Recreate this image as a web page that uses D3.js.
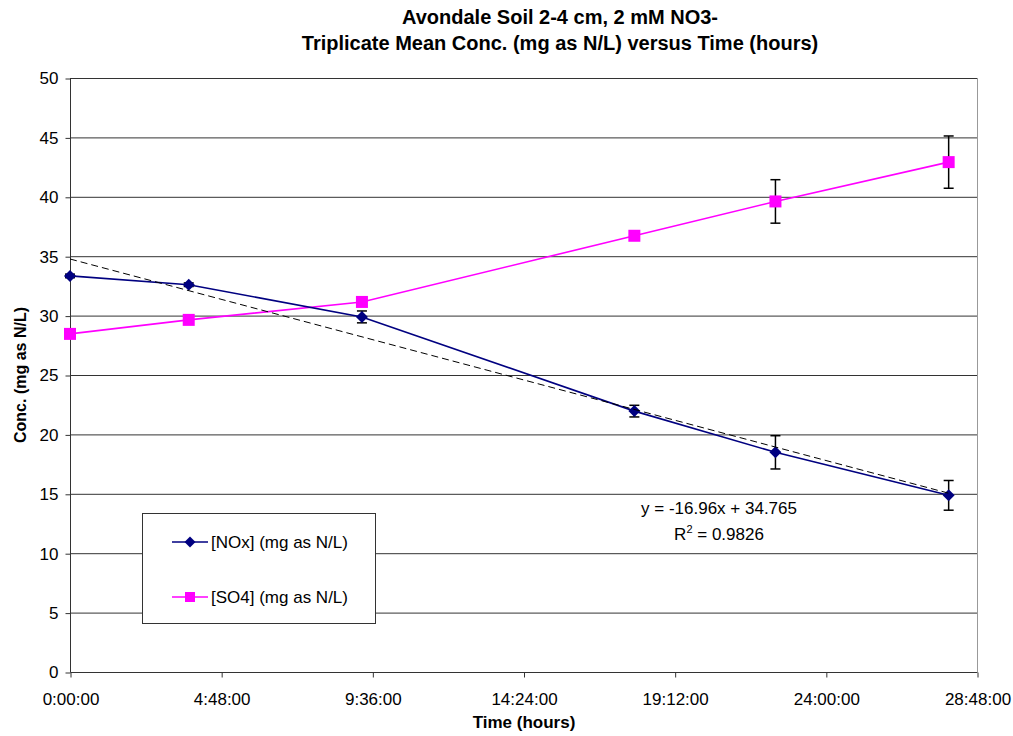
<!DOCTYPE html>
<html>
<head>
<meta charset="utf-8">
<script src="https://d3js.org/d3.v7.min.js"></script>
<style>
  html, body { margin: 0; padding: 0; background: #fff; }
  svg { display: block; font-family: "Liberation Sans", Arial, sans-serif; }
</style>
</head>
<body>
<svg id="chart" width="1013" height="736"></svg>
<script>
// Sampling times (hours) and triplicate means (mg as N/L)
const timeHours = [0, 3.77, 9.27, 17.92, 22.4, 27.9];
const noxMean = [33.34, 32.6, 29.89, 21.96, 18.49, 14.87];
const noxErr  = [0.15, 0.15, 0.5, 0.49, 1.4, 1.25];
const so4Mean = [28.46, 29.64, 31.15, 36.72, 39.61, 42.92];
const so4Err  = [0.1, 0.1, 0.1, 0.2, 1.83, 2.2];
const yTicks = [0, 5, 10, 15, 20, 25, 30, 35, 40, 45, 50];
const xTicks = [0, 4.8, 9.6, 14.4, 19.2, 24, 28.8];
const xTickLabels = ["0:00:00", "4:48:00", "9:36:00", "14:24:00", "19:12:00", "24:00:00", "28:48:00"];
// Linear fit of NOx against time in days
const fitSlope = -16.96;
const fitIntercept = 34.765;
const fitLabel = "y = -16.96x + 34.765";
const fitR2 = "0.9826";

const svg = d3.select("#chart");
const plotLeft = 70, plotRight = 977, plotTop = 78, plotBottom = 672;
const fontFamily = "Liberation Sans, Arial, sans-serif";

const x = d3.scaleLinear().domain([0, 28.8]).range([plotLeft, plotRight]);
const y = d3.scaleLinear().domain([0, 50]).range([plotBottom, plotTop]);

// Title
const title = svg.append("g").attr("font-size", 20).attr("font-weight", "bold").attr("text-anchor", "middle").attr("fill", "#000");
title.append("text").attr("x", 560).attr("y", 24).text("Avondale Soil 2-4 cm, 2 mM NO3-");
title.append("text").attr("x", 560).attr("y", 50).text("Triplicate Mean Conc. (mg as N/L) versus Time (hours)");

// Horizontal gridlines
svg.append("g").selectAll("line").data(yTicks.filter(d => d > 0)).join("line")
  .attr("x1", plotLeft).attr("x2", plotRight)
  .attr("y1", d => y(d) + 0.5).attr("y2", d => y(d) + 0.5)
  .attr("stroke", "#333").attr("stroke-width", 1);

// Right frame edge
svg.append("line").attr("x1", plotRight + 0.5).attr("x2", plotRight + 0.5).attr("y1", plotTop).attr("y2", plotBottom)
  .attr("stroke", "#999").attr("stroke-width", 1);

// Y axis
const yAxis = d3.axisLeft(y).tickValues(yTicks).tickSize(5).tickPadding(7).tickFormat(d3.format("d"));
svg.append("g").attr("transform", `translate(${plotLeft + 0.5},0.5)`).call(yAxis)
  .call(g => g.select(".domain").attr("stroke", "#333").attr("d", `M0,${plotTop}V${plotBottom}`))
  .call(g => g.selectAll(".tick line").attr("stroke", "#333"))
  .call(g => g.selectAll("text").attr("font-size", 17).attr("fill", "#000").attr("font-family", fontFamily));

// X axis
const xAxis = d3.axisBottom(x).tickValues(xTicks).tickSize(5).tickPadding(15)
  .tickFormat((d, i) => xTickLabels[i]);
svg.append("g").attr("transform", `translate(0.5,${plotBottom + 0.5})`).call(xAxis)
  .call(g => g.select(".domain").attr("stroke", "#333").attr("d", `M${plotLeft},0H${plotRight}`))
  .call(g => g.selectAll(".tick line").attr("stroke", "#333"))
  .call(g => g.selectAll("text").attr("font-size", 17).attr("fill", "#000").attr("font-family", fontFamily));

// Axis titles
svg.append("text").attr("x", 524).attr("y", 728).attr("text-anchor", "middle")
  .attr("font-size", 17).attr("font-weight", "bold").text("Time (hours)");
svg.append("text").attr("transform", "translate(26,375) rotate(-90)").attr("text-anchor", "middle")
  .attr("font-size", 16).attr("font-weight", "bold").text("Conc. (mg as N/L)");

// Legend box (drawn before series so the lines sit above it)
const legend = svg.append("g");
legend.append("rect").attr("x", 142.5).attr("y", 513.5).attr("width", 233).attr("height", 110)
  .attr("fill", "#fff").attr("stroke", "#333").attr("stroke-width", 1);

// Marker generators: a rotated square for the diamond keeps equal width and height
function markerPath(kind, size) {
  return d3.symbol().type(d3.symbolSquare).size(size)();
}
function markerRotation(kind) { return kind === "diamond" ? 45 : 0; }

function drawSeries(vals, errs, color, kind, size) {
  const pts = timeHours.map((t, i) => ({ t, v: vals[i], e: errs[i] }));
  svg.append("path").datum(pts)
    .attr("fill", "none").attr("stroke", color).attr("stroke-width", 1.6)
    .attr("d", d3.line().x(d => x(d.t)).y(d => y(d.v)));
  const eb = svg.append("g").attr("stroke", "#000").attr("stroke-width", 1.5);
  pts.forEach(d => {
    const cx = x(d.t);
    eb.append("line").attr("x1", cx).attr("x2", cx).attr("y1", y(d.v + d.e)).attr("y2", y(d.v - d.e));
    eb.append("line").attr("x1", cx - 5).attr("x2", cx + 5).attr("y1", y(d.v + d.e)).attr("y2", y(d.v + d.e));
    eb.append("line").attr("x1", cx - 5).attr("x2", cx + 5).attr("y1", y(d.v - d.e)).attr("y2", y(d.v - d.e));
  });
  svg.append("g").selectAll("path").data(pts).join("path")
    .attr("transform", d => `translate(${x(d.t)},${y(d.v)}) rotate(${markerRotation(kind)})`)
    .attr("d", markerPath(kind, size))
    .attr("fill", color);
}

// Trendline (x in days)
const tEnd = timeHours[timeHours.length - 1];
const fitLine = [0, tEnd].map(t => ({ t, v: fitSlope * t / 24 + fitIntercept }));

drawSeries(so4Mean, so4Err, "#ff00ff", "square", 144);
drawSeries(noxMean, noxErr, "#000080", "diamond", 72);

svg.append("path").datum(fitLine)
  .attr("fill", "none").attr("stroke", "#000").attr("stroke-width", 1).attr("stroke-dasharray", "7,4")
  .attr("d", d3.line().x(d => x(d.t)).y(d => y(d.v)));

// Fit equation
const eq = svg.append("g").attr("font-size", 17).attr("fill", "#000");
eq.append("text").attr("x", 719).attr("y", 514).attr("text-anchor", "middle").text(fitLabel);
const r2 = eq.append("text").attr("x", 719).attr("y", 540).attr("text-anchor", "middle");
r2.append("tspan").text("R");
r2.append("tspan").attr("font-size", 11).attr("dy", -7).text("2");
r2.append("tspan").attr("dy", 7).text(" = " + fitR2);

// Legend entries
const entries = [
  { name: "[NOx] (mg as N/L)", color: "#000080", kind: "diamond", size: 60, yPos: 542 },
  { name: "[SO4] (mg as N/L)", color: "#ff00ff", kind: "square", size: 100, yPos: 597 }
];
entries.forEach(e => {
  legend.append("line").attr("x1", 172).attr("x2", 208).attr("y1", e.yPos).attr("y2", e.yPos)
    .attr("stroke", e.color).attr("stroke-width", 1.6);
  legend.append("path").attr("transform", `translate(190,${e.yPos}) rotate(${markerRotation(e.kind)})`)
    .attr("d", markerPath(e.kind, e.size)).attr("fill", e.color);
  legend.append("text").attr("x", 211).attr("y", e.yPos + 6).attr("font-size", 17).text(e.name);
});
</script>
</body>
</html>
